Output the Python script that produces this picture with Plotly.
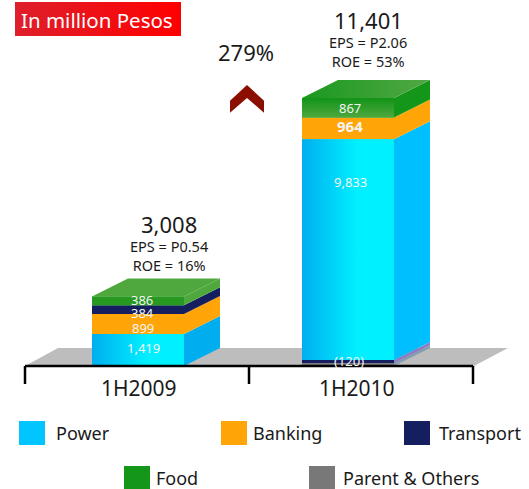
import plotly.graph_objects as go

W, H = 529, 489
PX_PER_PESO = 0.02247
AXIS_PX = 366
DEPTH_X, DEPTH_Y = 36, 18
DEPTH_V = DEPTH_Y / PX_PER_PESO
FONT = "Noto Sans"
INK = "#1a1a1a"

periods = ["1H2009", "1H2010"]
period_x = [138, 348]
bar_width = 92

# magnitudes per period, (120) and the transport loss sit under power in 2010
power = [1419, 9833]
banking = [899, 964]
transport = [384, 143]
food = [386, 867]
parent = [0, 120]
totals = ["3,008", "11,401"]
eps = ["EPS = P0.54", "EPS = P2.06"]
roe = ["ROE = 16%", "ROE = 53%"]
growth = "279%"

series = {"Power": power, "Banking": banking, "Transport": transport, "Food": food, "Parent & Others": parent}
stack_order = [
    ["Power", "Banking", "Transport", "Food"],
    ["Parent & Others", "Transport", "Power", "Banking", "Food"],
]
colors = {"Power": "#00C5FF", "Banking": "#FFA508", "Transport": "#151F60", "Food": "#149618", "Parent & Others": "#787878"}
side_colors = {
    "Power": ["#00AEEF", "#00BFFF"],
    "Banking": ["#FFA508", "#FFA508"],
    "Transport": ["#151F60", "#8E7CC3"],
    "Food": ["#4EA83E", "#149618"],
    "Parent & Others": ["#787878", "#7F9FAF"],
}
# text, x, y in the picture's pixels, bold
bar_labels = [
    ("1,419", 143, 348, False), ("899", 143, 328, False), ("384", 142, 313, False), ("386", 142, 300, False),
    ("9,833", 350, 182, False), ("964", 350, 126, True), ("867", 350, 108, False), ("(120)", 349, 361, False),
]


def stack_bases(i):
    bases, total = {}, 0
    for name in stack_order[i]:
        bases[name] = total
        total += series[name][i]
    return bases, total


def poly(xs, ys, color=None, gradient=None):
    extra = {"fillgradient": gradient} if gradient else {"fillcolor": color}
    return go.Scatter(x=xs, y=ys, mode="lines", line=dict(width=0), fill="toself",
                      hoverinfo="skip", showlegend=False, **extra)


fig = go.Figure()

for name, values in series.items():
    bases = [stack_bases(i)[0].get(name, 0) for i in range(2)]
    fig.add_trace(go.Bar(x=period_x, y=values, base=bases, width=bar_width, name=name,
                         marker=dict(color=colors[name], line=dict(width=0)), showlegend=False))

annotations = []
for i, cx in enumerate(period_x):
    x0, x1 = cx - bar_width / 2, cx + bar_width / 2
    bases, total = stack_bases(i)
    for name in stack_order[i]:
        v, b = series[name][i], bases[name]
        fig.add_trace(poly([x1, x1 + DEPTH_X, x1 + DEPTH_X, x1, x1],
                           [b, b + DEPTH_V, b + v + DEPTH_V, b + v, b], side_colors[name][i]))
        if name == "Power":
            fig.add_trace(poly([x0, x1, x1, x0, x0], [b, b, b + v, b + v, b],
                               gradient=dict(type="horizontal", colorscale=[[0, "#00AEEF"], [0.6, "#00F0FF"], [1, "#00F0FF"]])))
        if name == "Food" and i == 0:
            fig.add_trace(poly([x0, x1, x1, x0, x0], [b, b, b + v, b + v, b], "#289920"))
        if name == "Food" and i == 1:
            fig.add_trace(poly([x0, x1, x1, x0, x0], [b, b, b + v, b + v, b],
                               gradient=dict(type="vertical", colorscale=[[0, "#4EA83E"], [1, "#119418"]])))
    if i == 0:
        fig.add_trace(poly([x0, x0 + DEPTH_X, x1 + DEPTH_X, x1, x0],
                           [total, total + DEPTH_V, total + DEPTH_V, total, total], "#4EA83E"))
    else:
        fig.add_trace(poly([x0, x0 + DEPTH_X, x1 + DEPTH_X, x1, x0],
                           [total, total + DEPTH_V, total + DEPTH_V, total, total],
                           gradient=dict(type="horizontal", colorscale=[[0, "#1A981E"], [1, "#52A845"]])))

# red tag, also a gradient so it goes in as a trace on the pixel axis
fig.add_trace(go.Scatter(x=[15, 181, 181, 15, 15], y=[2, 2, 36, 36, 2], yaxis="y2", mode="lines",
                         line=dict(width=0), fill="toself", hoverinfo="skip", showlegend=False,
                         fillgradient=dict(type="horizontal", colorscale=[[0, "#DE1F2B"], [1, "#FF0000"]])))

shapes = [
    dict(type="path", path="M25,366 L58,348 L508,348 L474,366 Z", xref="x", yref="y2",
         fillcolor="#BDBDBD", line=dict(width=0), layer="below"),
    dict(type="line", x0=25, x1=473, y0=366, y1=366, xref="x", yref="y2", line=dict(color="black", width=2.5)),
    dict(type="path", path="M230,112.7 L230,100.7 L247,85 L264,100.7 L264,112.7 L247,98 Z", xref="x", yref="y2",
         fillcolor="#8B0F00", line=dict(width=0)),
]
for tx in [25, 249, 473]:
    shapes.append(dict(type="line", x0=tx, x1=tx, y0=366, y1=384, xref="x", yref="y2",
                       line=dict(color="black", width=2.5)))


def label(text, x, y, size, color=INK, anchor="center"):
    annotations.append(dict(x=x, y=y, xref="x", yref="y2", text=text, showarrow=False, xanchor=anchor,
                            borderpad=0, borderwidth=0, font=dict(family=FONT, size=size, color=color)))


label("In million Pesos", 97, 20, 20.5, "white")
label(growth, 246, 52, 22)

head_x = [169, 368]
total_y = [224, 20]
ratio_y = [255.5, 51]
for i in range(2):
    label(totals[i], head_x[i], total_y[i], 22)
    label(eps[i] + "<br>" + roe[i], head_x[i], ratio_y[i], 14.5)

label(periods[0], 139, 388, 21)
label(periods[1], 357, 388, 21)

for text, lx, ly, bold in bar_labels:
    label("<b>%s</b>" % text if bold else text, lx, ly, 15 if bold else 13, "#f4f4f4")

legend_items = [("Power", 19, 433, 56), ("Banking", 221, 433, 253), ("Transport", 404, 433, 439),
                ("Food", 124, 478, 156), ("Parent & Others", 309, 478, 343)]
for name, sx, ly, tx in legend_items:
    shapes.append(dict(type="rect", x0=sx, x1=sx + 26, y0=ly - 12, y1=ly + 12, xref="x", yref="y2",
                       fillcolor=colors[name], line=dict(width=0)))
    label(name, tx, ly, 18, anchor="left")

fig.update_layout(
    width=W, height=H, margin=dict(l=0, r=0, t=0, b=0),
    paper_bgcolor="white", plot_bgcolor="rgba(0,0,0,0)", barmode="overlay", showlegend=False,
    xaxis=dict(range=[0, W], visible=False, fixedrange=True),
    yaxis=dict(range=[-(H - AXIS_PX) / PX_PER_PESO, AXIS_PX / PX_PER_PESO], visible=False, fixedrange=True),
    yaxis2=dict(range=[H, 0], overlaying="y", visible=False, fixedrange=True),
    shapes=shapes, annotations=annotations,
)

fig.write_html("out.html", config={"displayModeBar": False},
               post_script="document.body.style.margin='0';")
